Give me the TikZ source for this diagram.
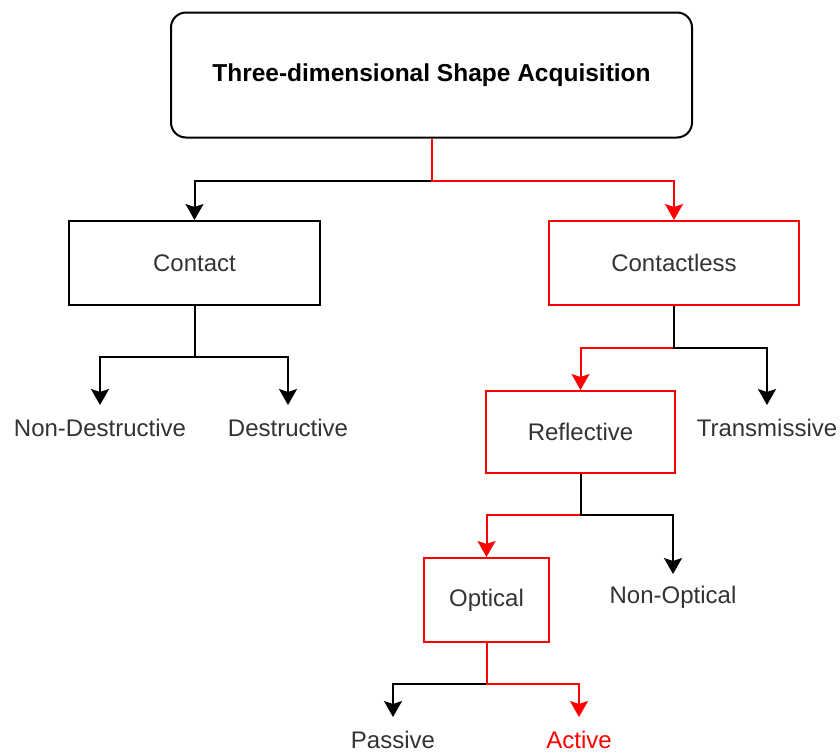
\documentclass[tikz,border=0pt]{standalone}
\usepackage{fontspec}
\setmainfont{Liberation Sans}
\usetikzlibrary{positioning, arrows.meta, calc}
\definecolor{pathline}{HTML}{FF0000}
\definecolor{plainline}{HTML}{000000}
\definecolor{labeltext}{HTML}{333333}
\tikzset{
  base/.style={
    draw,
    align=center,
    font=\fontsize{24}{28}\selectfont,
    text=labeltext,
    minimum height=84pt,
    inner sep=0pt,
    line width=2pt,
  },
  plain/.style={base, draw=plainline},
  chosen/.style={base, draw=pathline},
  rootbox/.style={base, rounded corners=15pt, minimum width=521pt, minimum height=125pt,
    font=\fontsize{24.5}{28}\selectfont\bfseries, text=black},
  leaf/.style={
    align=center,
    font=\fontsize{24}{28}\selectfont,
    text=labeltext,
    minimum height=46pt,
    inner sep=0pt,
  },
  arr/.style={-{Stealth[length=16pt, width=18pt, inset=3pt]}, line width=2pt},
}

\begin{document}
\begin{tikzpicture}

\useasboundingbox (0pt,0pt) rectangle (840pt,-753pt);

% Root
\node[rootbox] (shape) at (431.5pt,-75pt) {Three-dimensional Shape Acquisition};

% Level 1
\node[plain, minimum width=251pt, below=81.5pt of shape, xshift=-237pt] (contact) {Contact};
\node[chosen, minimum width=250pt, below=81.5pt of shape, xshift=242.5pt] (contactless) {Contactless};

% Level 2
\node[leaf, below=99pt of contact, xshift=-94.5pt] (nondestr) {Non-Destructive};
\node[leaf, below=99pt of contact, xshift=93.5pt] (destr) {Destructive};
\node[chosen, minimum width=189pt, minimum height=82pt, below=84pt of contactless, xshift=-93.5pt] (reflective) {Reflective};
\node[leaf, below=99pt of contactless, xshift=93pt] (transmissive) {Transmissive};

% Level 3
\node[chosen, minimum width=125pt, below=83pt of reflective, xshift=-94pt] (optical) {Optical};
\node[leaf, below=100pt of reflective, xshift=92.5pt] (nonoptical) {Non-Optical};

% Level 4
\node[leaf, below=74pt of optical, xshift=-93.5pt] (passive) {Passive};
\node[leaf, text=pathline, below=74pt of optical, xshift=92.5pt] (active) {Active};

% --- Tree edges (later edge on top) ------------------------------------
\foreach \p/\c/\d/\col in {shape/contact/42/plainline, shape/contactless/42/pathline,
    contact/nondestr/51/plainline, contact/destr/51/plainline,
    contactless/reflective/42/pathline, contactless/transmissive/42/plainline,
    reflective/optical/41/pathline, reflective/nonoptical/41/plainline,
    optical/passive/41/plainline, optical/active/41/pathline}
  {\draw[arr, draw=\col] (\p.south) -- ++(0,-\d pt) -| (\c.north);}

\end{tikzpicture}
\end{document}
